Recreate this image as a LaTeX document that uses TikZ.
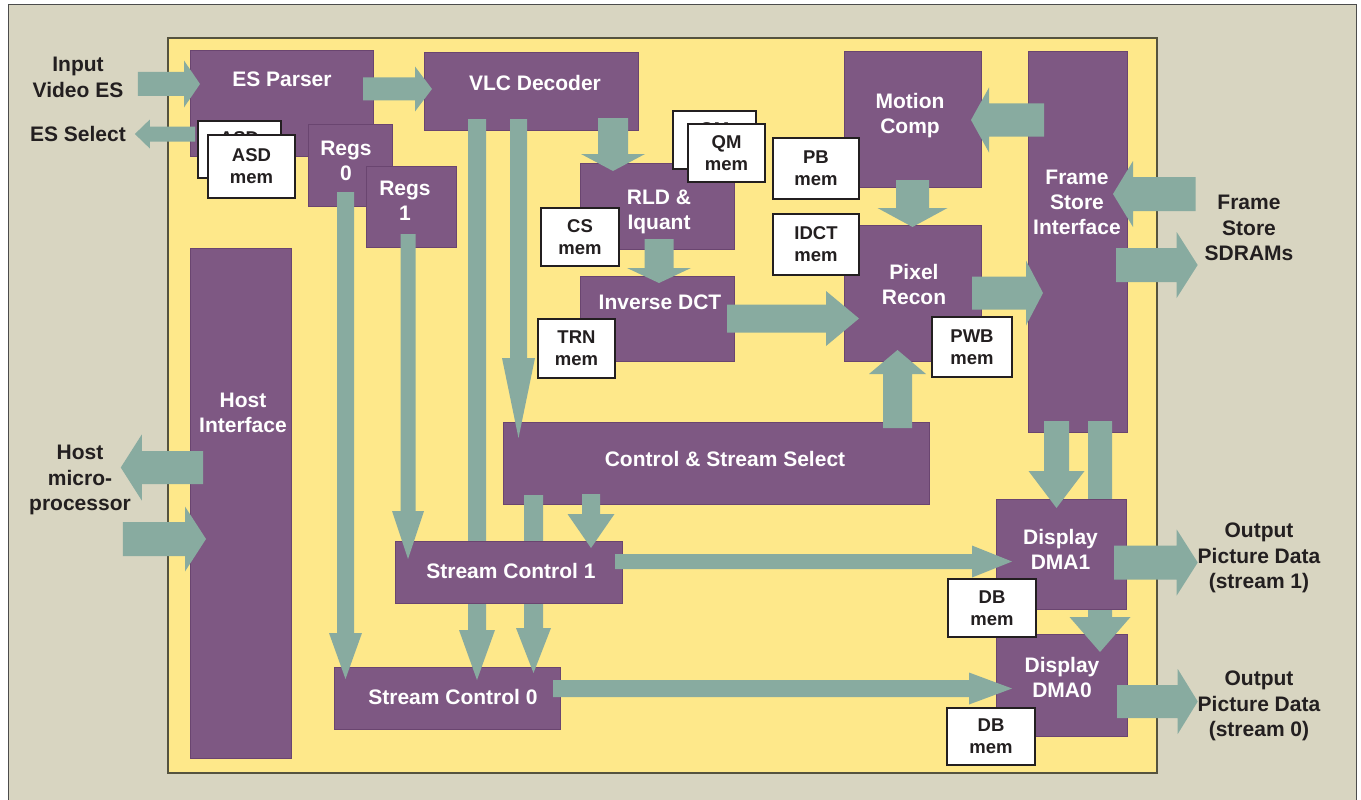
\documentclass[tikz,border=0pt]{standalone}
\usepackage{fontspec}
\setmainfont{Liberation Sans}
\usetikzlibrary{calc}

\definecolor{panelgray}{HTML}{D8D5C1}
\definecolor{chipyellow}{HTML}{FEE88A}
\definecolor{chipedge}{HTML}{55533F}
\definecolor{blockpurple}{HTML}{7E5883}
\definecolor{blockedge}{HTML}{6A4570}
\definecolor{flowgreen}{HTML}{88ABA0}
\definecolor{inktext}{HTML}{231F20}

% fat block arrow: start, tip, shaft half width, head half width, head length
\newcommand{\flowarrow}[5]{%
  \coordinate (fa-s) at #1;
  \coordinate (fa-t) at #2;
  \coordinate (fa-h) at ($(fa-t)!#5!(fa-s)$);
  \fill[flow] ($(fa-s)!#3!90:(fa-t)$) -- ($(fa-h)!#3!-90:(fa-s)$)
    -- ($(fa-h)!#4!-90:(fa-s)$) -- (fa-t) -- ($(fa-h)!#4!90:(fa-s)$)
    -- ($(fa-h)!#3!90:(fa-s)$) -- ($(fa-s)!#3!-90:(fa-t)$) -- cycle;
}

\begin{document}
\begin{tikzpicture}[
    x=1pt, y=-1pt,
    chip/.style={
        draw=chipedge, fill=chipyellow, line width=1.2pt,
        rectangle, anchor=north west, inner sep=0pt, outer sep=0pt
    },
    blk/.style={
        draw=blockedge, fill=blockpurple, line width=0.8pt,
        rectangle, anchor=north west, inner sep=0pt, outer sep=0pt
    },
    blktxt/.style={
        text=white, inner sep=0pt, outer sep=0pt, align=center,
        font=\bfseries\fontsize{21}{25}\selectfont
    },
    mem/.style={
        draw=inktext, fill=white, line width=1.2pt,
        rectangle, anchor=north west, inner sep=0pt, outer sep=0pt,
        align=center, text=inktext,
        font=\bfseries\fontsize{18.5}{22}\selectfont
    },
    extlbl/.style={
        text=inktext, inner sep=0pt, outer sep=0pt, align=center,
        font=\bfseries\fontsize{21}{25.5}\selectfont
    },
    flow/.style={fill=flowgreen},
]

\useasboundingbox (0,0) rectangle (1361,800);
\fill[panelgray, draw=black!70, line width=1pt] (8,5) rectangle (1356,812);

% Chip outline
\node[chip, minimum width=989pt, minimum height=735pt] (chip) at (168,38) {};

% Outside labels
\node[extlbl] (inp) at (78,77.5) {Input\\Video ES};
\node[extlbl] (essel) at (78,134) {ES Select};
\node[extlbl] (hostp) at (80,480) {Host\\micro-\\processor};
\node[extlbl] (sdram) at (1249,228) {Frame\\Store\\SDRAMs};
\node[extlbl] (out1) at (1259,558) {Output\\Picture Data\\(stream 1)};
\node[extlbl] (out0) at (1259,706) {Output\\Picture Data\\(stream 0)};

% Front end: parser, decoder, registers
\node[blk, minimum width=183pt, minimum height=106pt] (esp) at (190,50) {};
\node[blk, minimum width=214pt, minimum height=78pt] (vlc) at (424,52) {};
\node[blk, minimum width=84pt, minimum height=82pt] (regs0) at (308,124) {};
\node[blk, minimum width=90pt, minimum height=81pt] (regs1) at (366,166) {};
\node[mem, minimum width=83pt, minimum height=57pt] (asdb) at (198,121) {ASD\\mem};
\node[mem, minimum width=87pt, minimum height=63pt] (asd) at (208,135) {ASD\\mem};

% Inverse quantisation and transform
\node[blk, minimum width=154pt, minimum height=86pt] (rld) at (580,163) {};
\node[blk, minimum width=154pt, minimum height=85pt] (idct) at (580,276) {};
\node[mem, minimum width=83pt, minimum height=58pt] (qmb) at (673,111) {QM\\mem};
\node[mem, minimum width=77pt, minimum height=58pt] (qm) at (688,124) {QM\\mem};
\node[mem, minimum width=78pt, minimum height=58pt] (cs) at (541,208) {CS\\mem};
\node[mem, minimum width=77pt, minimum height=59pt] (trn) at (538,319) {TRN\\mem};

% Motion compensation and reconstruction
\node[blk, minimum width=137pt, minimum height=136pt] (mc) at (844,51) {};
\node[blk, minimum width=137pt, minimum height=136pt] (pr) at (844,225) {};
\node[blk, minimum width=99pt, minimum height=381pt] (fsi) at (1028,51) {};
\node[mem, minimum width=86pt, minimum height=61pt] (pb) at (773,138) {PB\\mem};
\node[mem, minimum width=86pt, minimum height=61pt] (idctm) at (773,214) {IDCT\\mem};
\node[mem, minimum width=80pt, minimum height=60pt] (pwb) at (932,317) {PWB\\mem};

% Host side, control, output path
\node[blk, minimum width=101pt, minimum height=510pt] (host) at (190,248) {};
\node[blk, minimum width=426pt, minimum height=82pt] (ctrl) at (503,422) {};
\node[blk, minimum width=226pt, minimum height=62pt] (sc0) at (334,667) {};
\node[blk, minimum width=131pt, minimum height=102pt] (dma0) at (996,634) {};
\node[mem, minimum width=88pt, minimum height=57pt] (db0) at (947,708) {DB\\mem};

% Flows that run behind Stream Control 1 and Display DMA1
\flowarrow{([xshift=53pt,yshift=11pt]vlc.south west)}{([xshift=30pt,yshift=-13pt]sc0.north)}{9pt}{18pt}{50pt}
\flowarrow{([xshift=30.5pt,yshift=9pt]ctrl.south west)}{([xshift=-26.5pt,yshift=-6pt]sc0.north east)}{9.5pt}{17.5pt}{45pt}
\flowarrow{([xshift=22.5pt,yshift=11pt]fsi.south)}{([xshift=38.5pt,yshift=-18pt]dma0.north)}{12pt}{30.5pt}{35pt}

\node[blk, minimum width=227pt, minimum height=62pt] (sc1) at (395,541) {};
\node[blk, minimum width=130pt, minimum height=110pt] (dma1) at (996,499) {};
\node[mem, minimum width=88pt, minimum height=58pt] (db1) at (948,579) {DB\\mem};

% Remaining flows
\flowarrow{([xshift=14.5pt,yshift=-6.5pt]inp.east)}{([xshift=10pt,yshift=19pt]esp.west)}{12pt}{23.5pt}{16pt}
\flowarrow{([xshift=-10pt,yshift=14pt]esp.east)}{([xshift=8pt,yshift=2pt]vlc.west)}{11.5pt}{22.5pt}{17pt}
\flowarrow{([xshift=5pt,yshift=-31pt]esp.west)}{([xshift=9pt]essel.east)}{7.5pt}{14.5pt}{15pt}
\flowarrow{([xshift=82pt,yshift=12pt]vlc.south)}{([xshift=-44pt,yshift=-8pt]rld.north)}{15pt}{32pt}{17pt}
\flowarrow{([xshift=2pt,yshift=10pt]rld.south)}{([xshift=2pt,yshift=-7pt]idct.north)}{14.5pt}{32pt}{15pt}
\flowarrow{([xshift=-7pt]idct.east)}{([xshift=15pt,yshift=-25.5pt]pr.west)}{14pt}{27.5pt}{33pt}
\flowarrow{([yshift=7pt]mc.south)}{([yshift=-2pt]pr.north)}{16.5pt}{35pt}{19pt}
\flowarrow{([xshift=16pt,yshift=-69pt]fsi.north west)}{([xshift=-10pt,yshift=-1pt]mc.east)}{16.5pt}{32.5pt}{18pt}
\flowarrow{([xshift=-9pt,yshift=34pt]sdram.west)}{([xshift=-14pt,yshift=47.5pt]fsi.east)}{17pt}{33pt}{20pt}
\flowarrow{([xshift=-11pt,yshift=-23.5pt]fsi.east)}{([xshift=-7pt,yshift=-37pt]sdram.west)}{17pt}{33pt}{21pt}
\flowarrow{([xshift=-9pt]pr.east)}{([xshift=15pt,yshift=-51.5pt]fsi.west)}{16.5pt}{32.5pt}{17pt}
\flowarrow{([xshift=-31.5pt,yshift=-6pt]ctrl.north east)}{([xshift=-15pt,yshift=11pt]pr.south)}{14.5pt}{28.5pt}{24pt}
\flowarrow{([xshift=94.5pt,yshift=11pt]vlc.south west)}{([xshift=15.5pt,yshift=-16pt]ctrl.north west)}{8.5pt}{16.5pt}{80pt}
\flowarrow{([xshift=-4.5pt,yshift=14pt]regs0.south)}{([xshift=11.5pt,yshift=-12pt]sc0.north west)}{8.5pt}{16.5pt}{46pt}
\flowarrow{([xshift=-3pt,yshift=13pt]regs1.south)}{([xshift=13pt,yshift=-18pt]sc1.north west)}{7.5pt}{16pt}{48pt}
\flowarrow{([xshift=88pt,yshift=10pt]ctrl.south west)}{([xshift=-31pt,yshift=-7pt]sc1.north east)}{9pt}{23.5pt}{34pt}
\flowarrow{([xshift=-7pt,yshift=10.5pt]sc1.east)}{([xshift=16pt,yshift=-7.5pt]dma1.west)}{7.5pt}{16pt}{40pt}
\flowarrow{([xshift=-7pt,yshift=9.5pt]sc0.east)}{([xshift=16pt,yshift=-3.5pt]dma0.west)}{8.5pt}{16pt}{43pt}
\flowarrow{([xshift=-21pt,yshift=11pt]fsi.south)}{([xshift=-4.5pt,yshift=-9pt]dma1.north)}{12.5pt}{28pt}{37pt}
\flowarrow{([xshift=-12pt,yshift=-8.5pt]dma1.east)}{([yshift=-4.5pt]out1.west)}{17pt}{33pt}{21pt}
\flowarrow{([xshift=-10pt,yshift=-16.5pt]dma0.east)}{([yshift=4.5pt]out0.west)}{16.5pt}{32.5pt}{20pt}
\flowarrow{([xshift=13pt,yshift=35.5pt]host.west)}{([xshift=-10pt,yshift=12.5pt]hostp.east)}{16.5pt}{33pt}{21pt}
\flowarrow{([xshift=-8pt,yshift=-59pt]hostp.east)}{([xshift=16pt,yshift=-36pt]host.west)}{17pt}{32.5pt}{21pt}

% Block names
\node[blktxt] (esp-t) at (282,79) {ES Parser};
\node[blktxt] (vlc-t) at (535,83) {VLC Decoder};
\node[blktxt] (regs0-t) at (346,160.5) {Regs\\0};
\node[blktxt] (regs1-t) at (405,200.5) {Regs\\1};
\node[blktxt] (rld-t) at (659,211.5) {RLD \&\\Iquant};
\node[blktxt] (idct-t) at (660,302) {Inverse DCT};
\node[blktxt] (mc-t) at (910,116) {Motion\\Comp};
\node[blktxt] (pr-t) at (914,284.5) {Pixel\\Recon};
\node[blktxt] (fsi-t) at (1077,202) {Frame\\Store\\Interface};
\node[blktxt] (host-t) at (243,413) {Host\\Interface};
\node[blktxt] (ctrl-t) at (725,459) {Control \& Stream Select};
\node[blktxt] (sc1-t) at (511,571) {Stream Control 1};
\node[blktxt] (sc0-t) at (453,697) {Stream Control 0};
\node[blktxt] (dma1-t) at (1060.5,549) {Display\\DMA1};
\node[blktxt] (dma0-t) at (1062,677.5) {Display\\DMA0};

\end{tikzpicture}
\end{document}
